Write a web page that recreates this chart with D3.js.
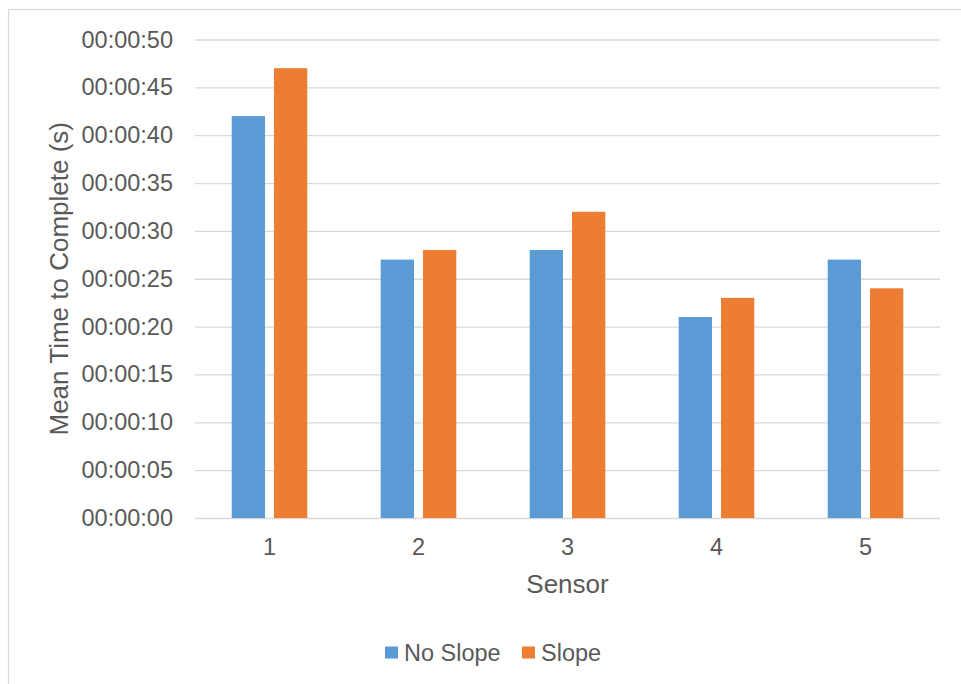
<!DOCTYPE html>
<html>
<head>
<meta charset="utf-8">
<script src="https://cdn.jsdelivr.net/npm/d3@7"></script>
<style>
  html, body { margin: 0; padding: 0; background: #fff; }
  svg { display: block; }
  text { font-family: "Liberation Sans", Arial, sans-serif; fill: #595959; }
</style>
</head>
<body>
<script>
// Mean completion time per sensor, in seconds
const sensors = ["1", "2", "3", "4", "5"];
const seriesNames = ["No Slope", "Slope"];
const noSlope = [42, 27, 28, 21, 27];
const slope = [47, 28, 32, 23, 24];
const yTicks = [0, 5, 10, 15, 20, 25, 30, 35, 40, 45, 50];
const seriesColors = ["#5B9BD5", "#ED7D31"];

const W = 961, H = 684;
const plot = { left: 195, right: 940, top: 39.5, bottom: 518 };

const svg = d3.select("body").append("svg").attr("width", W).attr("height", H);

// chart frame
svg.append("rect")
  .attr("x", 8.5).attr("y", 9.5)
  .attr("width", W + 20).attr("height", H + 20)
  .attr("fill", "#fff").attr("stroke", "#d9d9d9").attr("stroke-width", 1.2);

const y = d3.scaleLinear().domain([0, 50]).range([plot.bottom, plot.top]);

const x0 = d3.scaleBand().domain(sensors)
  .range([plot.left, plot.right])
  .paddingInner(0.4926).paddingOuter(0.2463);

const x1 = d3.scaleBand().domain(seriesNames)
  .range([0, x0.bandwidth()])
  .paddingInner(0.213).paddingOuter(0);

const color = d3.scaleOrdinal().domain(seriesNames).range(seriesColors);

// hh:mm:ss label for a number of seconds
const fmt = s => {
  const pad = n => String(n).padStart(2, "0");
  return pad(Math.floor(s / 3600)) + ":" + pad(Math.floor(s / 60) % 60) + ":" + pad(s % 60);
};

// gridlines + y labels
const yAxis = d3.axisLeft(y).tickValues(yTicks).tickFormat(fmt)
  .tickSize(-(plot.right - plot.left)).tickPadding(22);
const gy = svg.append("g").attr("transform", `translate(${plot.left},0)`).call(yAxis);
gy.select(".domain").remove();
gy.selectAll(".tick line").attr("stroke", "#d9d9d9").attr("stroke-width", 1.3);
gy.selectAll(".tick text")
  .attr("fill", "#595959")
  .style("font-family", "'Liberation Sans', Arial, sans-serif")
  .style("font-size", "23.5px");

// bars
const rows = sensors.map((s, i) => ({ sensor: s, values: [noSlope[i], slope[i]] }));
const groups = svg.append("g").selectAll("g").data(rows).join("g")
  .attr("transform", d => `translate(${x0(d.sensor)},0)`);
groups.selectAll("rect")
  .data(d => seriesNames.map((name, k) => ({ name, value: d.values[k] })))
  .join("rect")
  .attr("x", d => x1(d.name))
  .attr("width", x1.bandwidth())
  .attr("y", d => y(d.value))
  .attr("height", d => y(0) - y(d.value))
  .attr("fill", d => color(d.name));

// x axis labels
const xAxis = d3.axisBottom(x0).tickSize(0).tickPadding(20);
const gx = svg.append("g").attr("transform", `translate(0,${plot.bottom})`).call(xAxis);
gx.select(".domain").remove();
gx.selectAll(".tick text")
  .attr("fill", "#595959")
  .style("font-family", "'Liberation Sans', Arial, sans-serif")
  .style("font-size", "23.5px");

// axis titles
svg.append("text")
  .attr("x", (plot.left + plot.right) / 2).attr("y", 593)
  .attr("text-anchor", "middle").style("font-size", "26px")
  .text("Sensor");

svg.append("text")
  .attr("transform", `translate(68,${(plot.top + plot.bottom) / 2}) rotate(-90)`)
  .attr("text-anchor", "middle").style("font-size", "26px")
  .text("Mean Time to Complete (s)");

// legend
const legendItems = [
  { name: seriesNames[0], x: 385 },
  { name: seriesNames[1], x: 522 }
];
const lg = svg.append("g").selectAll("g").data(legendItems).join("g")
  .attr("transform", d => `translate(${d.x},646.5)`);
lg.append("rect").attr("width", 13).attr("height", 12)
  .attr("fill", d => color(d.name));
lg.append("text").attr("x", 19).attr("y", 14)
  .style("font-size", "23.5px")
  .text(d => d.name);
</script>
</body>
</html>
